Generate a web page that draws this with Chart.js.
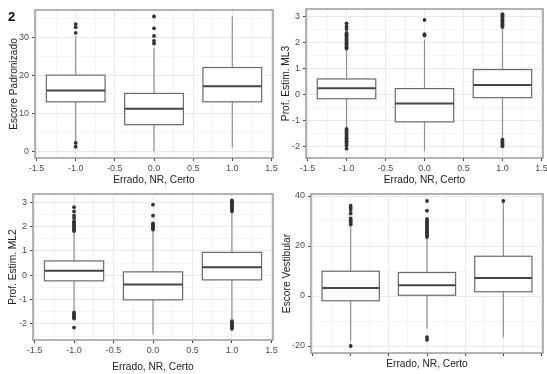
<!DOCTYPE html>
<html lang="en">
<head>
  <meta charset="UTF-8" />
  <title>Boxplots - Errado, NR, Certo</title>
  <script src="https://cdn.jsdelivr.net/npm/chart.js"></script>
  <style>
    body { margin: 0; background: #fff; font-family: 'Liberation Sans', Arial, sans-serif; }
    #wrap { position: relative; width: 547px; height: 374px; overflow: hidden; }
    #wrap canvas { position: absolute; }
    #tag { position: absolute; left: 8px; top: 9px; font-weight: bold; font-size: 13px; color: #000; }
  </style>
</head>
<body>
  <div id="wrap">
    <canvas id="c1" width="281" height="185" style="left:0;top:0"></canvas>
    <canvas id="c2" width="272" height="185" style="left:275px;top:0"></canvas>
    <canvas id="c3" width="281" height="189" style="left:0;top:185px"></canvas>
    <canvas id="c4" width="272" height="189" style="left:275px;top:185px"></canvas>
    <div id="tag">2</div>
  </div>

  <script>
    // groups on the x axis
    const categories = ['Errado', 'NR', 'Certo'];
    const xPos = [-1, 0, 1];
    const xTicks = [-1.5, -1, -0.5, 0, 0.5, 1, 1.5];

    // five numbers per group: lower whisker, Q1, median, Q3, upper whisker
    const padronizadoStats = [[2.6, 13, 16, 20, 30.2], [0, 7, 11.2, 15.2, 27.2], [1, 13, 17.1, 22, 35.4]];
    const padronizadoOut = [[1.2, 2.2, 31.1, 32.6, 33.4], [28.3, 29, 30.3, 32.3, 35.4], []];
    const padronizadoTicks = [0, 10, 20, 30];

    const ml3Stats = [[-1.28, -0.18, 0.22, 0.58, 1.72], [-2.2, -1.07, -0.36, 0.21, 2.1], [-1.7, -0.14, 0.35, 0.94, 2.55]];
    const ml3Out = [
      [-2.1, -1.97, -1.88, -1.82, -1.76, -1.7, -1.64, -1.58, -1.52, -1.46, -1.4, -1.34,
        1.75, 1.8, 1.85, 1.9, 1.95, 2.0, 2.05, 2.1, 2.15, 2.2, 2.25, 2.3, 2.35, 2.5, 2.6, 2.72],
      [2.25, 2.3, 2.85],
      [-2.01, -1.96, -1.91, -1.86, -1.8, -1.75,
        2.58, 2.63, 2.68, 2.73, 2.78, 2.83, 2.88, 2.93, 2.98, 3.03, 3.07]
    ];
    const ml3Ticks = [-2, -1, 0, 1, 2, 3];

    const ml2Stats = [[-1.45, -0.23, 0.19, 0.59, 1.78], [-2.43, -1.01, -0.38, 0.14, 1.85], [-1.85, -0.19, 0.33, 0.94, 2.6]];
    const ml2Out = [
      [-2.15, -1.78, -1.73, -1.68, -1.63, -1.58, -1.53,
        1.82, 1.87, 1.92, 1.97, 2.02, 2.07, 2.12, 2.17, 2.22, 2.35, 2.45, 2.62, 2.8],
      [1.88, 1.93, 1.98, 2.03, 2.08, 2.13, 2.45, 2.9],
      [-2.2, -2.15, -2.1, -2.05, -2.0, -1.94, -1.89,
        2.63, 2.68, 2.73, 2.78, 2.83, 2.88, 2.93, 2.98, 3.03, 3.08]
    ];
    const ml2Ticks = [-2, -1, 0, 1, 2, 3];

    const vestibularStats = [[-18, -1.9, 3.2, 9.9, 28], [-13, 0.3, 4.3, 9.4, 23], [-16.5, 1.7, 7.2, 15.9, 37.5]];
    const vestibularOut = [
      [-20, 28.6, 29.2, 29.8, 30.4, 31, 33, 34.4, 35.3, 36.1],
      [-17.5, -16.5, 23.6, 24.2, 24.8, 25.4, 26, 26.6, 27.2, 27.8, 28.4, 29, 29.6, 30.2, 30.8, 34.1, 38],
      [38]
    ];
    const vestibularTicks = [-20, 0, 20, 40];

    const FONT = "'Liberation Sans', Arial, sans-serif";

    // major ticks from the list, minor ones half way between (ggplot style grid)
    function buildTicks(majors, min, max) {
      const step = majors[1] - majors[0];
      const out = [];
      majors.forEach(v => out.push({ value: v, major: true }));
      [majors[0] - step / 2].concat(majors.map(v => v + step / 2)).forEach(v => {
        if (v > min && v < max) out.push({ value: v, major: false });
      });
      return out.sort((a, b) => a.value - b.value);
    }

    const boxPlugin = {
      id: 'boxes',
      beforeDatasetsDraw(chart, args, opts) {
        const { ctx, scales: { x, y } } = chart;
        ctx.save();
        opts.stats.forEach((s, i) => {
          const cx = x.getPixelForValue(xPos[i]);
          const x0 = x.getPixelForValue(xPos[i] - 0.375);
          const x1 = x.getPixelForValue(xPos[i] + 0.375);
          const [lo, q1, med, q3, hi] = s.map(v => y.getPixelForValue(v));
          ctx.strokeStyle = '#8f8f8f';
          ctx.lineWidth = 1.2;
          ctx.beginPath();
          ctx.moveTo(cx, lo); ctx.lineTo(cx, q1);
          ctx.moveTo(cx, q3); ctx.lineTo(cx, hi);
          ctx.stroke();
          ctx.fillStyle = '#fff';
          ctx.fillRect(x0, q3, x1 - x0, q1 - q3);
          ctx.strokeStyle = '#6a6a6a';
          ctx.lineWidth = 1.2;
          ctx.strokeRect(x0, q3, x1 - x0, q1 - q3);
          ctx.strokeStyle = '#454545';
          ctx.lineWidth = 2;
          ctx.beginPath();
          ctx.moveTo(x0, med); ctx.lineTo(x1, med);
          ctx.stroke();
        });
        ctx.restore();
      },
      afterDraw(chart) {
        const { ctx, chartArea: a } = chart;
        ctx.save();
        ctx.strokeStyle = '#9a9a9a';
        ctx.lineWidth = 1.5;
        ctx.strokeRect(a.left, a.top, a.right - a.left, a.bottom - a.top);
        ctx.restore();
      }
    };

    function makePanel(id, p) {
      const points = [];
      p.outliers.forEach((list, i) => list.forEach(v => points.push({ x: xPos[i], y: v })));
      const gridStyle = {
        color: c => (c.tick && c.tick.major ? '#e9e9e9' : '#f4f4f4'),
        tickColor: c => (c.tick && c.tick.major ? '#444' : 'rgba(0,0,0,0)'),
        tickLength: 3,
        lineWidth: 1
      };
      new Chart(document.getElementById(id), {
        type: 'scatter',
        data: {
          datasets: [{
            data: points,
            pointRadius: 1.9,
            pointBorderWidth: 0,
            pointBackgroundColor: '#333'
          }]
        },
        options: {
          responsive: false,
          animation: false,
          layout: { padding: p.pad },
          plugins: {
            legend: { display: false },
            tooltip: { enabled: false },
            boxes: { stats: p.stats }
          },
          scales: {
            x: {
              type: 'linear',
              min: -1.52,
              max: 1.52,
              afterBuildTicks: s => { s.ticks = buildTicks(xTicks, s.min, s.max); },
              afterFit: s => { s.height = p.xh; s.paddingLeft = 0; s.paddingRight = 0; },
              ticks: {
                autoSkip: false,
                maxRotation: 0,
                padding: 2,
                font: { family: FONT, size: 9 },
                color: '#4d4d4d',
                callback: (v, i, t) => (p.xLabels && t[i].major ? v.toFixed(1) : '')
              },
              grid: gridStyle,
              border: { display: false },
              title: {
                display: true,
                text: 'Errado, NR, Certo',
                font: { family: FONT, size: 10.2 },
                color: '#222',
                padding: { top: 0, bottom: p.xTitlePad }
              }
            },
            y: {
              type: 'linear',
              min: p.yMin,
              max: p.yMax,
              afterBuildTicks: s => { s.ticks = buildTicks(p.yTicks, s.min, s.max); },
              afterFit: s => { s.width = p.yw; s.paddingTop = 0; s.paddingBottom = 0; },
              ticks: {
                autoSkip: false,
                padding: 3,
                font: { family: FONT, size: 9 },
                color: '#4d4d4d',
                callback: (v, i, t) => (t[i].major ? String(v) : '')
              },
              grid: gridStyle,
              border: { display: false },
              title: {
                display: true,
                text: p.yTitle,
                font: { family: FONT, size: 10.2 },
                color: '#222',
                padding: { top: p.yTitlePad, bottom: 0 }
              }
            }
          }
        },
        plugins: [boxPlugin]
      });
    }

    makePanel('c1', {
      stats: padronizadoStats, outliers: padronizadoOut, yTicks: padronizadoTicks,
      yMin: -1.75, yMax: 37.1, yTitle: 'Escore Padronizado',
      pad: { left: 0, right: 8, top: 10, bottom: 0 }, yw: 35, xh: 27,
      xTitlePad: -1.5, yTitlePad: 8.5, xLabels: true
    });
    makePanel('c2', {
      stats: ml3Stats, outliers: ml3Out, yTicks: ml3Ticks,
      yMin: -2.46, yMax: 3.27, yTitle: 'Prof. Estim. ML3',
      pad: { left: 0, right: 3, top: 9, bottom: 0 }, yw: 31, xh: 27,
      xTitlePad: -1.5, yTitlePad: 5.5, xLabels: true
    });
    makePanel('c3', {
      stats: ml2Stats, outliers: ml2Out, yTicks: ml2Ticks,
      yMin: -2.66, yMax: 3.34, yTitle: 'Prof. Estim. ML2',
      pad: { left: 0, right: 8, top: 9, bottom: 0 }, yw: 33, xh: 34,
      xTitlePad: 1, yTitlePad: 7.5, xLabels: true
    });
    makePanel('c4', {
      stats: vestibularStats, outliers: vestibularOut, yTicks: vestibularTicks,
      yMin: -22.8, yMax: 40.8, yTitle: 'Escore Vestibular',
      pad: { left: 0, right: 3, top: 9, bottom: 0 }, yw: 36, xh: 21,
      xTitlePad: 3.5, yTitlePad: 6.5, xLabels: false
    });
  </script>
</body>
</html>
